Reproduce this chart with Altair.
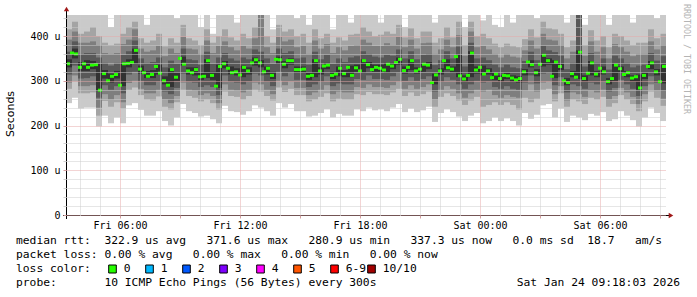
import altair as alt
import pandas as pd

NB = "\u00a0"

# time frame in hours after Fri 00:00 (Fri 03:18 .. Sat 09:18)
T_START = 3.3
T_END = 33.3
MED_STEP = 0.2
SMOKE_STEP = 0.3
Y_MAX = 447

# median rtt (us), one value per 12 minutes
median = [
    338, 362, 360, 330, 338, 330, 335, 336, 279, 316,
    300, 310, 314, 290, 338, 339, 341, 368, 326, 318,
    310, 314, 332, 317, 300, 290, 325, 308, 350, 337,
    322, 318, 325, 309, 310, 345, 312, 288, 332, 338,
    328, 318, 320, 313, 330, 322, 340, 347, 340, 320,
    328, 312, 348, 347, 337, 345, 345, 325, 325, 326,
    310, 312, 345, 322, 333, 335, 312, 315, 328, 316,
    330, 312, 329, 322, 345, 336, 325, 330, 328, 324,
    337, 333, 341, 348, 323, 330, 345, 322, 326, 337,
    335, 296, 313, 322, 345, 329, 326, 354, 311, 304,
    312, 362, 324, 330, 315, 322, 307, 315, 305, 312,
    311, 306, 302, 305, 320, 342, 336, 318, 337, 357,
    345, 310, 342, 332, 300, 296, 316, 308, 364, 305,
    317, 340, 315, 328, 320, 298, 305, 335, 327, 314,
    318, 306, 309, 284, 312, 332, 340, 320, 298, 332,
]

# sorted pings (us), one value per 18 minutes: p1 = fastest ... p10 = slowest
p1 = [250, 262, 238, 240, 240, 198, 222, 205, 218, 205,
      245, 250, 235, 222, 222, 232, 210, 200, 218, 248,
      232, 228, 220, 222, 214, 205, 244, 232, 230, 224,
      232, 245, 240, 232, 222, 250, 240, 248, 232, 232,
      220, 222, 228, 236, 218, 226, 222, 222, 236, 232,
      240, 234, 236, 232, 240, 248, 230, 238, 230, 234,
      242, 208, 228, 236, 230, 220, 210, 222, 228, 205,
      210, 218, 210, 216, 210, 200, 228, 215, 224, 245,
      248, 218, 238, 208, 222, 218, 212, 226, 222, 230,
      210, 214, 232, 222, 212, 198, 218, 240, 228, 210]
p2 = [282, 298, 272, 272, 274, 222, 255, 242, 252, 238,
      280, 285, 268, 258, 256, 265, 242, 236, 252, 280,
      266, 262, 254, 258, 250, 236, 276, 266, 264, 258,
      266, 280, 276, 266, 256, 285, 275, 282, 268, 268,
      254, 258, 264, 272, 254, 260, 258, 258, 270, 268,
      275, 270, 270, 268, 274, 282, 266, 274, 266, 270,
      276, 242, 264, 272, 266, 256, 246, 256, 264, 242,
      246, 252, 246, 252, 246, 236, 262, 252, 260, 280,
      282, 254, 272, 242, 258, 254, 248, 262, 258, 264,
      242, 250, 268, 258, 248, 232, 254, 276, 262, 244]
p3 = [296, 312, 288, 288, 290, 240, 270, 258, 268, 252,
      295, 300, 282, 272, 272, 280, 258, 250, 266, 296,
      280, 278, 268, 272, 266, 250, 292, 280, 278, 274,
      280, 296, 292, 280, 270, 300, 290, 298, 284, 284,
      268, 274, 280, 290, 270, 276, 274, 274, 286, 284,
      292, 286, 286, 284, 290, 298, 282, 290, 282, 286,
      292, 258, 280, 288, 282, 272, 262, 272, 280, 276,
      280, 268, 262, 268, 264, 262, 278, 292, 276, 296,
      298, 270, 288, 256, 274, 270, 264, 278, 274, 280,
      258, 266, 284, 274, 264, 248, 270, 292, 278, 260]
p4 = [314, 334, 305, 306, 310, 262, 290, 280, 288, 272,
      314, 320, 300, 290, 290, 298, 276, 270, 284, 316,
      298, 296, 286, 290, 286, 268, 312, 298, 296, 292,
      298, 316, 312, 298, 288, 320, 310, 318, 302, 302,
      286, 292, 298, 310, 288, 294, 292, 292, 304, 302,
      312, 304, 304, 302, 310, 318, 300, 308, 300, 304,
      310, 276, 298, 308, 302, 292, 282, 292, 300, 296,
      298, 286, 282, 288, 282, 280, 296, 312, 294, 316,
      318, 290, 308, 274, 292, 288, 282, 296, 292, 298,
      276, 284, 302, 292, 282, 266, 288, 310, 296, 278]
p5 = [330, 350, 322, 322, 326, 278, 305, 296, 305, 288,
      330, 338, 316, 306, 306, 314, 292, 286, 300, 334,
      314, 312, 302, 306, 302, 284, 328, 314, 312, 308,
      314, 334, 330, 314, 304, 338, 328, 336, 318, 318,
      302, 308, 314, 326, 304, 310, 308, 308, 320, 318,
      328, 320, 320, 318, 326, 336, 316, 324, 316, 320,
      326, 292, 314, 324, 318, 308, 298, 308, 316, 312,
      314, 302, 298, 304, 298, 296, 312, 330, 310, 332,
      336, 306, 324, 290, 308, 304, 298, 312, 308, 314,
      292, 300, 318, 308, 298, 280, 304, 326, 312, 294]
p6 = [348, 372, 342, 346, 344, 338, 324, 316, 322, 340,
      348, 372, 334, 322, 324, 336, 310, 328, 318, 354,
      330, 330, 318, 348, 320, 336, 344, 332, 328, 334,
      330, 352, 346, 332, 320, 354, 344, 350, 332, 332,
      318, 348, 330, 340, 320, 332, 324, 334, 336, 348,
      342, 336, 336, 340, 340, 352, 332, 348, 330, 340,
      342, 316, 328, 348, 332, 358, 312, 366, 332, 334,
      328, 318, 312, 318, 312, 310, 326, 346, 326, 360,
      350, 346, 338, 306, 322, 368, 312, 344, 322, 332,
      306, 338, 332, 322, 312, 314, 318, 344, 326, 336]
p7 = [365, 388, 360, 362, 362, 352, 340, 334, 340, 358,
      366, 390, 350, 340, 342, 352, 330, 345, 338, 372,
      348, 346, 336, 365, 338, 352, 362, 350, 345, 352,
      348, 370, 365, 350, 338, 372, 362, 366, 350, 352,
      336, 365, 348, 358, 338, 350, 342, 352, 355, 366,
      360, 354, 352, 358, 356, 370, 350, 366, 348, 358,
      360, 335, 346, 366, 350, 376, 332, 385, 350, 352,
      346, 336, 330, 336, 330, 328, 344, 365, 346, 378,
      368, 364, 356, 326, 340, 447, 332, 362, 340, 350,
      325, 356, 350, 340, 330, 334, 336, 362, 345, 355]
p8 = [392, 410, 385, 385, 388, 380, 362, 360, 362, 382,
      392, 415, 372, 365, 368, 378, 355, 372, 362, 398,
      372, 370, 360, 390, 362, 378, 388, 375, 368, 378,
      372, 395, 447, 375, 362, 398, 388, 392, 375, 378,
      360, 390, 372, 382, 362, 375, 368, 378, 380, 392,
      385, 378, 378, 384, 380, 398, 375, 392, 372, 384,
      385, 360, 370, 392, 375, 402, 356, 410, 375, 378,
      370, 360, 352, 360, 354, 352, 368, 390, 372, 405,
      392, 390, 380, 350, 365, 447, 356, 388, 365, 375,
      350, 382, 375, 365, 355, 360, 360, 388, 370, 380]
p9 = [415, 432, 405, 410, 420, 400, 385, 380, 383, 405,
      420, 432, 395, 385, 390, 405, 377, 395, 385, 425,
      395, 390, 380, 415, 385, 400, 415, 397, 390, 405,
      395, 420, 447, 400, 385, 425, 410, 415, 400, 405,
      385, 415, 395, 405, 385, 397, 390, 403, 405, 420,
      410, 400, 403, 410, 405, 425, 397, 417, 395, 410,
      410, 385, 395, 420, 397, 432, 380, 432, 400, 405,
      395, 383, 375, 383, 377, 375, 393, 415, 397, 432,
      417, 415, 405, 375, 390, 447, 380, 413, 390, 400,
      375, 405, 400, 390, 380, 385, 385, 415, 395, 405]
p10 = [447, 447, 447, 447, 447, 447, 447, 420, 447, 447,
       447, 447, 447, 425, 447, 447, 447, 447, 440, 447,
       447, 447, 420, 447, 405, 447, 447, 447, 430, 447,
       447, 447, 447, 447, 415, 447, 447, 447, 440, 447,
       425, 447, 447, 447, 415, 447, 447, 430, 447, 447,
       447, 447, 430, 447, 447, 447, 420, 447, 447, 447,
       447, 430, 447, 447, 447, 447, 420, 447, 447, 435,
       447, 425, 420, 447, 430, 447, 447, 447, 440, 447,
       447, 447, 447, 430, 447, 447, 425, 447, 447, 447,
       425, 447, 447, 447, 430, 447, 447, 447, 440, 447]

smoke_colors = ["#cacaca", "#a4a4a4", "#7e7e7e", "#585858", "#323232"]

loss_labels = ["0", "1", "2", "3", "4", "5", "6-9", "10/10"]
loss_colors = ["#26ff00", "#00b8ff", "#0059ff", "#7e00ff", "#ff00ff",
               "#ff5500", "#ff0000", "#a10000"]

legend_lines = [
    "median rtt:  322.9 us avg   371.6 us max   280.9 us min   337.3 us now   0.0 ms sd  18.7   am/s",
    "packet loss: 0.00 % avg   0.00 % max   0.00 % min   0.00 % now",
    "loss color:",
    "probe:       10 ICMP Echo Pings (56 Bytes) every 300s",
]
stamp = "Sat Jan 24 09:18:03 2026"
y_title = "Seconds"
watermark = "RRDTOOL / TOBI OETIKER"

x_tick_labels = {6: "Fri 06:00", 12: "Fri 12:00", 18: "Fri 18:00",
                 24: "Sat 00:00", 30: "Sat 06:00"}
y_tick_labels = {0: "0", 100: "100 u", 200: "200 u", 300: "300 u", 400: "400 u"}

MONO = "DejaVu Sans Mono"
MAJOR = "#e6a8a8"
MINOR = "#cccccc"

# ---------------- tables ----------------
pairs = [(p1, p10), (p2, p9), (p3, p8), (p4, p7), (p5, p6)]
rows = []
for b, (lo, hi) in enumerate(pairs):
    for k in range(len(lo)):
        rows.append({"t0": T_START + k * SMOKE_STEP, "t1": T_START + (k + 1) * SMOKE_STEP,
                     "lo": lo[k], "hi": hi[k], "col": smoke_colors[b], "ord": b * 1000 + k})
smoke_df = pd.DataFrame(rows)

med_df = pd.DataFrame({
    "t0": [T_START + i * MED_STEP for i in range(len(median))],
    "t1": [T_START + (i + 1) * MED_STEP for i in range(len(median))],
    "m": median,
})


def ternary(d):
    expr = "''"
    for v in sorted(d, reverse=True):
        expr = f"datum.value == {v} ? '{d[v]}' : ({expr})"
    return expr


xs = alt.Scale(domain=[T_START, T_END], nice=False, zero=False)
ys = alt.Scale(domain=[0, Y_MAX], nice=False, zero=True)

x_axis = alt.Axis(
    values=list(range(4, 34)), labelExpr=ternary(x_tick_labels), title=None,
    domain=False, grid=True, gridDash=[1, 1], gridWidth=1,
    gridColor={"condition": {"test": "datum.value % 6 === 0", "value": MAJOR}, "value": MINOR},
    tickColor={"condition": {"test": "datum.value % 3 === 0", "value": "#d4a0a0"}, "value": "#ffffff"},
    tickSize=3, labelPadding=2, labelFont=MONO, labelFontSize=10, labelColor="#000000",
    labelOverlap=False, labelFlush=False, zindex=1,
)
y_axis = alt.Axis(
    values=list(range(0, 441, 20)), labelExpr=ternary(y_tick_labels), title=None,
    domain=False, grid=True, gridDash=[1, 1], gridWidth=1,
    gridColor={"condition": {"test": "datum.value % 100 === 0", "value": MAJOR}, "value": MINOR},
    tickColor={"condition": {"test": "datum.value % 100 === 0", "value": "#d4a0a0"}, "value": "#d0d0d0"},
    tickSize=3, labelPadding=3, labelFont=MONO, labelFontSize=10, labelColor="#000000",
    labelOverlap=False, labelFlush=False, zindex=1,
)

smoke = alt.Chart(smoke_df).mark_rect(clip=True, strokeWidth=0).encode(
    x=alt.X("t0:Q", scale=xs, axis=x_axis),
    x2="t1:Q",
    y=alt.Y("lo:Q", scale=ys, axis=y_axis),
    y2="hi:Q",
    color=alt.Color("col:N", scale=None),
    order=alt.Order("ord:Q"),
)

med = alt.Chart(med_df).mark_rule(strokeWidth=3, color=loss_colors[0], clip=True).encode(
    x=alt.X("t0:Q", scale=xs, axis=x_axis),
    x2="t1:Q",
    y=alt.Y("m:Q", scale=ys, axis=y_axis),
)

one = pd.DataFrame({"a": [0]})

layers = [smoke, med]

layers.append(alt.Chart(one).mark_rule(color="#000000", strokeWidth=1).encode(
    x=alt.value(0.5), y=alt.value(-5), y2=alt.value(204)))
layers.append(alt.Chart(one).mark_rule(color="#000000", strokeWidth=1).encode(
    x=alt.value(-3), x2=alt.value(604), y=alt.value(200.5)))
layers.append(alt.Chart(one).mark_point(shape="triangle-up", filled=True, size=28,
                                        color="#a01818", opacity=1).encode(
    x=alt.value(0.5), y=alt.value(-6)))
layers.append(alt.Chart(one).mark_point(shape="triangle-right", filled=True, size=28,
                                        color="#a01818", opacity=1).encode(
    x=alt.value(605), y=alt.value(200.5)))

# legend text below the plot (pixel layout relative to the plot area)
LEFT = -50
ROW0 = 226
ROW_H = 14
for i, line in enumerate(legend_lines):
    layers.append(alt.Chart(one).mark_text(
        font=MONO, fontSize=11.3, align="left", baseline="middle", color="#000000").encode(
        x=alt.value(LEFT), y=alt.value(ROW0 + i * ROW_H), text=alt.value(line.replace(" ", NB))))

layers.append(alt.Chart(one).mark_text(
    font=MONO, fontSize=11.3, align="right", baseline="middle", color="#000000").encode(
    x=alt.value(614), y=alt.value(ROW0 + 3 * ROW_H), text=alt.value(stamp.replace(" ", NB))))

BOX0 = 42.7
BOX_GAP = 37
BOX_Y = ROW0 + 2 * ROW_H
for j, (lab, col) in enumerate(zip(loss_labels, loss_colors)):
    bx = BOX0 + j * BOX_GAP
    layers.append(alt.Chart(one).mark_rect(stroke="#000000", strokeWidth=1, fill=col).encode(
        x=alt.value(bx), x2=alt.value(bx + 7.6), y=alt.value(BOX_Y - 4), y2=alt.value(BOX_Y + 4)))
    layers.append(alt.Chart(one).mark_text(
        font=MONO, fontSize=11.3, align="left", baseline="middle", color="#000000").encode(
        x=alt.value(bx + 15), y=alt.value(BOX_Y), text=alt.value(lab)))

layers.append(alt.Chart(one).mark_text(
    font="DejaVu Sans", fontSize=11, angle=270, align="center", baseline="middle",
    color="#000000").encode(x=alt.value(-55), y=alt.value(99), text=alt.value(y_title)))

layers.append(alt.Chart(one).mark_text(
    font=MONO, fontSize=8.3, angle=90, align="center", baseline="middle",
    color="#b4b4b4").encode(x=alt.value(620), y=alt.value(44), text=alt.value(watermark)))

chart = alt.layer(*layers).properties(
    width=600, height=200,
    padding={"left": 66, "top": 15, "right": 31, "bottom": 82},
    autosize=alt.AutoSizeParams(type="none"),
    background="#ffffff",
).configure_view(strokeOpacity=0)

chart.save("out.html", embed_options={"renderer": "svg", "actions": False})
